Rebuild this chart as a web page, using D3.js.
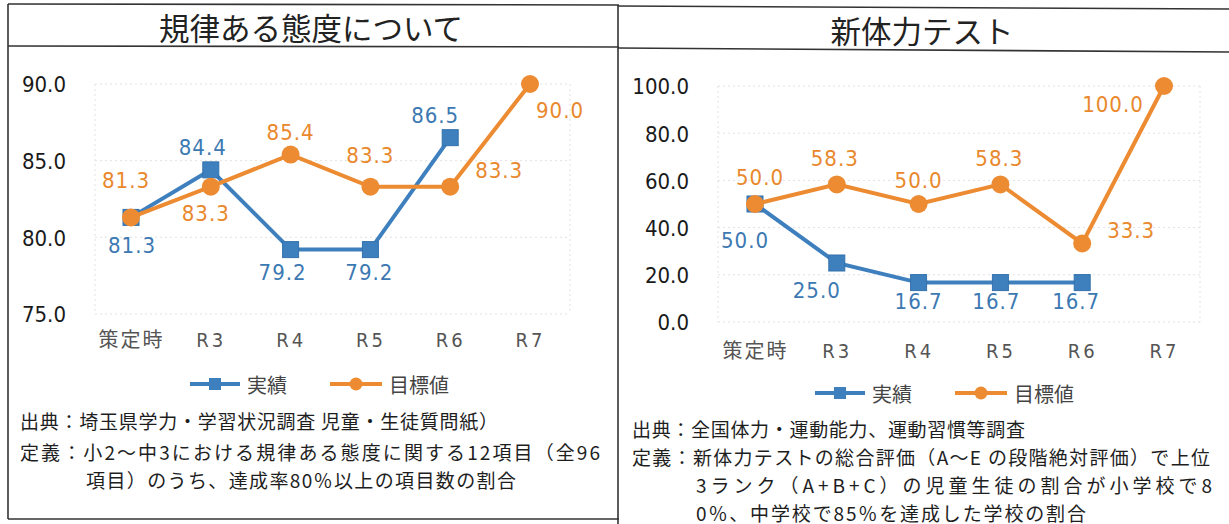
<!DOCTYPE html>
<html><head><meta charset="utf-8">
<script src="https://cdn.jsdelivr.net/npm/d3@7"></script>
<style>
html,body{margin:0;padding:0;background:#fff;}
svg{display:block;}
.jp{font-family:"Noto Sans CJK JP","Noto Sans",sans-serif;}
.num{font-family:"DejaVu Sans Condensed","DejaVu Sans",sans-serif;font-stretch:condensed;}
</style></head>
<body>
<svg id="c" width="1229" height="524"></svg>
<script>
// ---------- data ----------
const categories = ["策定時","R3","R4","R5","R6","R7"];
const seriesNames = ["実績","目標値"];

// 規律ある態度について
const kiritsuActual = [81.3, 84.4, 79.2, 79.2, 86.5, null];
const kiritsuTarget = [81.3, 83.3, 85.4, 83.3, 83.3, 90.0];
const kiritsuTicks = [75, 80, 85, 90];

// 新体力テスト
const tairyokuActual = [50.0, 25.0, 16.7, 16.7, 16.7, null];
const tairyokuTarget = [50.0, 58.3, 50.0, 58.3, 33.3, 100.0];
const tairyokuTicks = [0, 20, 40, 60, 80, 100];

const titles = ["規律ある態度について", "新体力テスト"];
const notesLeft = [
  "出典：埼玉県学力・学習状況調査 児童・生徒質問紙）",
  "定義：小2～中3における規律ある態度に関する12項目（全96",
  "項目）のうち、達成率80％以上の項目数の割合"
];
const notesRight = [
  "出典：全国体力・運動能力、運動習慣等調査",
  "定義：新体力テストの総合評価（A～E の段階絶対評価）で上位",
  "3ランク（A+B+C）の児童生徒の割合が小学校で8",
  "0％、中学校で85％を達成した学校の割合"
];

// ---------- layout (positions, kept apart from data) ----------
const leftActualOff = [[1,28],[-8,-22],[-8,23],[-1,23],[-15,-22],null];
const leftTargetOff = [[-5,-37],[-5,27],[0,-22],[0,-31],[49,-16],[30,26]];
const rightActualOff = [[-10,36],[-20,27],[0,19],[-4,19],[-6,19],null];
const rightTargetOff = [[5,-27],[-2,-26],[0,-24],[-1,-26],[49,-13],[-51,18]];
const notesLeftLen = [478, 580, 430];
const notesRightLen = [393, 578, 516, 390];

const BLUE = "#3e7fbe", ORANGE = "#ec8b31";
const BLUE_T = "#3c79b2", ORANGE_T = "#e9882c";

const svg = d3.select("#c");
svg.append("rect").attr("width",1229).attr("height",524).attr("fill","#fff");

// ---------- frames ----------
const frame = svg.append("g").attr("stroke","#333").attr("stroke-width",1.6).attr("fill","none");
frame.append("line").attr("x1",8).attr("y1",4).attr("x2",619).attr("y2",5);
frame.append("line").attr("x1",8).attr("y1",4).attr("x2",8).attr("y2",519);
frame.append("line").attr("x1",8).attr("y1",519).attr("x2",619).attr("y2",519);
frame.append("line").attr("x1",8).attr("y1",46).attr("x2",619).attr("y2",47);
frame.append("line").attr("x1",618).attr("y1",5).attr("x2",618).attr("y2",524);
frame.append("line").attr("x1",618).attr("y1",6).attr("x2",1229).attr("y2",9);
frame.append("line").attr("x1",618).attr("y1",48).attr("x2",1229).attr("y2",52);

// titles
svg.append("text").attr("class","jp").attr("x",311).attr("y",27).attr("text-anchor","middle")
  .attr("dominant-baseline","central").attr("font-size",30.5).attr("fill","#222").text(titles[0]);
svg.append("text").attr("class","jp").attr("x",922).attr("y",30).attr("text-anchor","middle")
  .attr("dominant-baseline","central").attr("font-size",30.5).attr("fill","#222").text(titles[1]);

function drawChart(cfg){
  const g = svg.append("g");
  const x = d3.scalePoint().domain(categories).range(cfg.xRange);
  const y = d3.scaleLinear().domain(cfg.yDomain).range(cfg.yRange);

  // faint dotted grid
  const grid = g.append("g").attr("stroke","#e2e2e2").attr("stroke-width",1).attr("stroke-dasharray","2,3");
  cfg.ticks.forEach(t=>{
    grid.append("line").attr("x1",cfg.gridX[0]).attr("x2",cfg.gridX[1]).attr("y1",y(t)).attr("y2",y(t));
  });
  grid.append("line").attr("x1",cfg.gridX[0]).attr("x2",cfg.gridX[0]).attr("y1",y(cfg.yDomain[1])).attr("y2",y(cfg.yDomain[0]));
  grid.append("line").attr("x1",cfg.gridX[1]).attr("x2",cfg.gridX[1]).attr("y1",y(cfg.yDomain[1])).attr("y2",y(cfg.yDomain[0]));

  // y axis labels via d3 axis
  const ya = g.append("g").attr("transform",`translate(${cfg.yLabelX},0)`)
    .call(d3.axisLeft(y).tickValues(cfg.ticks).tickSize(0).tickPadding(0).tickFormat(d3.format(".1f")));
  ya.select(".domain").remove();
  ya.selectAll("text").attr("class","num").attr("font-size",22).attr("fill","#1a1a1a")
    .attr("font-family",null).attr("dy","0.36em");

  // x axis labels via d3 axis
  const xa = g.append("g").attr("transform",`translate(0,${cfg.xLabelY})`)
    .call(d3.axisBottom(x).tickSize(0).tickPadding(0));
  xa.select(".domain").remove();
  xa.selectAll("text").attr("font-size",20).attr("fill","#555").attr("dy","0.36em")
    .attr("font-family",null)
    .attr("class",d=>/^R/.test(d)?"num":"jp")
    .attr("letter-spacing",d=>/^R/.test(d)?"3":"2");

  const line = d3.line().defined(d=>d.v!=null).x(d=>x(d.c)).y(d=>y(d.v));
  function series(vals){ return categories.map((c,i)=>({c, v:vals[i], i})); }

  const act = series(cfg.actual), tgt = series(cfg.target);

  g.append("path").datum(act).attr("d",line).attr("fill","none").attr("stroke",BLUE).attr("stroke-width",4);
  g.append("g").selectAll("rect").data(act.filter(d=>d.v!=null)).join("rect")
    .attr("x",d=>x(d.c)-8).attr("y",d=>y(d.v)-8).attr("width",16).attr("height",16)
    .attr("fill",BLUE).attr("stroke","#3472ad").attr("stroke-width",1);

  g.append("path").datum(tgt).attr("d",line).attr("fill","none").attr("stroke",ORANGE).attr("stroke-width",4);
  g.append("g").selectAll("circle").data(tgt.filter(d=>d.v!=null)).join("circle")
    .attr("cx",d=>x(d.c)).attr("cy",d=>y(d.v)).attr("r",9).attr("fill",ORANGE);

  // data labels
  const fmt = d3.format(".1f");
  g.append("g").selectAll("text").data(act.filter(d=>d.v!=null)).join("text")
    .attr("class","num").attr("font-size",22).attr("fill",BLUE_T).attr("text-anchor","middle")
    .attr("dominant-baseline","central").attr("letter-spacing","1")
    .attr("x",d=>x(d.c)+cfg.actualOff[d.i][0]).attr("y",d=>y(d.v)+cfg.actualOff[d.i][1])
    .text(d=>fmt(d.v));
  g.append("g").selectAll("text").data(tgt.filter(d=>d.v!=null)).join("text")
    .attr("class","num").attr("font-size",22).attr("fill",ORANGE_T).attr("text-anchor","middle")
    .attr("dominant-baseline","central").attr("letter-spacing","1")
    .attr("x",d=>x(d.c)+cfg.targetOff[d.i][0]).attr("y",d=>y(d.v)+cfg.targetOff[d.i][1])
    .text(d=>fmt(d.v));

  // legend
  const lg = g.append("g");
  const L = cfg.legend;
  lg.append("line").attr("x1",L.x1).attr("x2",L.x1+50).attr("y1",L.y).attr("y2",L.y).attr("stroke",BLUE).attr("stroke-width",4);
  lg.append("rect").attr("x",L.x1+25-6).attr("y",L.y-6).attr("width",12).attr("height",12).attr("fill",BLUE);
  lg.append("text").attr("class","jp").attr("x",L.x1+57).attr("y",L.y).attr("dominant-baseline","central")
    .attr("font-size",20).attr("fill","#444").text(seriesNames[0]);
  lg.append("line").attr("x1",L.x2).attr("x2",L.x2+52).attr("y1",L.y).attr("y2",L.y).attr("stroke",ORANGE).attr("stroke-width",4);
  lg.append("circle").attr("cx",L.x2+26).attr("cy",L.y).attr("r",6.5).attr("fill",ORANGE);
  lg.append("text").attr("class","jp").attr("x",L.x2+59).attr("y",L.y).attr("dominant-baseline","central")
    .attr("font-size",20).attr("fill","#444").text(seriesNames[1]);

  // notes
  g.append("g").selectAll("text").data(cfg.notes).join("text")
    .attr("class","jp").attr("font-size",19).attr("fill","#1e1e1e").attr("dominant-baseline","central")
    .attr("x",(d,i)=>i<2?cfg.noteX[0]:cfg.noteX[1]).attr("y",(d,i)=>cfg.noteY[i])
    .attr("textLength",(d,i)=>cfg.noteLen[i]).attr("lengthAdjust","spacing")
    .text(d=>d);
}

drawChart({
  xRange:[131,530], yDomain:[75,90], yRange:[314,84], ticks:kiritsuTicks,
  gridX:[95,570], yLabelX:66, xLabelY:340,
  actual:kiritsuActual, target:kiritsuTarget,
  actualOff:leftActualOff, targetOff:leftTargetOff,
  legend:{x1:190, x2:330, y:384},
  notes:notesLeft, noteX:[20,86], noteY:[420,451,479], noteLen:notesLeftLen
});
drawChart({
  xRange:[755,1164], yDomain:[0,100], yRange:[322,86], ticks:tairyokuTicks,
  gridX:[718,1200], yLabelX:689, xLabelY:351,
  actual:tairyokuActual, target:tairyokuTarget,
  actualOff:rightActualOff, targetOff:rightTargetOff,
  legend:{x1:815, x2:955, y:393},
  notes:notesRight, noteX:[632,696], noteY:[428,456,484,512], noteLen:notesRightLen
});
</script>
</body></html>
